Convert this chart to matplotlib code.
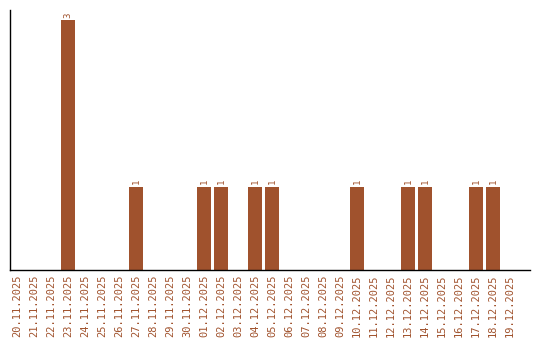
import matplotlib
matplotlib.use("Agg")
import matplotlib.pyplot as plt

# dates 20.11.2025 .. 19.12.2025
dates = ["20.11.2025", "21.11.2025", "22.11.2025", "23.11.2025", "24.11.2025",
         "25.11.2025", "26.11.2025", "27.11.2025", "28.11.2025", "29.11.2025",
         "30.11.2025", "01.12.2025", "02.12.2025", "03.12.2025", "04.12.2025",
         "05.12.2025", "06.12.2025", "07.12.2025", "08.12.2025", "09.12.2025",
         "10.12.2025", "11.12.2025", "12.12.2025", "13.12.2025", "14.12.2025",
         "15.12.2025", "16.12.2025", "17.12.2025", "18.12.2025", "19.12.2025"]
counts = [0, 0, 0, 3, 0, 0, 0, 1, 0, 0,
          0, 1, 1, 0, 1, 1, 0, 0, 0, 0,
          1, 0, 0, 1, 1, 0, 0, 1, 1, 0]

color = "#A0522D"

fig = plt.figure(figsize=(5.4, 3.4), dpi=100)
ax = fig.add_axes([10 / 540, 70 / 340, 520 / 540, 260 / 340])

x = list(range(len(dates)))
ax.bar(x, counts, width=0.82, color=color)

# value labels above non-zero bars
for xi, c in zip(x, counts):
    if c > 0:
        ax.text(xi, c + 0.03, str(c), rotation=90, ha="center", va="bottom",
                fontsize=6.5, color=color, family="DejaVu Sans Mono")

ax.set_xlim(-0.41, 30.18)
ax.set_ylim(0, 3.12)
ax.set_xticks(x)
ax.set_xticklabels(dates, rotation=90, fontsize=7.5, color=color,
                   family="DejaVu Sans Mono")
ax.tick_params(axis="x", length=0, pad=3.5)
ax.set_yticks([])
ax.spines["top"].set_visible(False)
ax.spines["right"].set_visible(False)
ax.spines["left"].set_linewidth(1)
ax.spines["bottom"].set_linewidth(1)

plt.savefig("out.png", dpi=100)
